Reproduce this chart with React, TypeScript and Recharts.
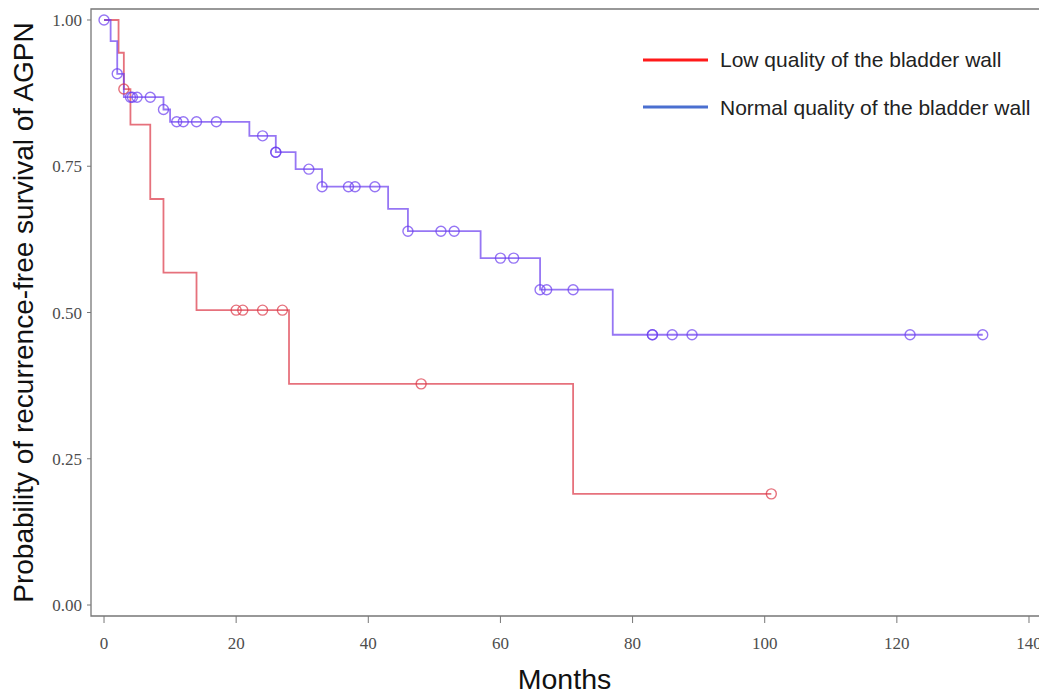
import {
  ComposedChart, Line, Scatter, XAxis, YAxis, ReferenceArea, Legend, Label,
} from "recharts";

// Kaplan-Meier steps (months, survival)
const lowStepMonths = [0, 2.2, 3, 4, 7, 9, 14, 28, 71, 101];
const lowStepSurv = [1, 0.944, 0.882, 0.821, 0.694, 0.568, 0.504, 0.378, 0.19, 0.19];
const lowCensorMonths = [3, 20, 21, 24, 27, 48, 101];
const lowCensorSurv = [0.882, 0.504, 0.504, 0.504, 0.504, 0.378, 0.19];

const normalStepMonths = [0, 1, 2, 3, 9, 10, 22, 26, 29, 33, 43, 46, 57, 66, 77, 133];
const normalStepSurv = [1, 0.964, 0.908, 0.868, 0.847, 0.826, 0.802, 0.774, 0.745, 0.715, 0.677, 0.639, 0.593, 0.539, 0.462, 0.462];
const normalCensorMonths = [0, 2, 4, 4.3, 5, 7, 9, 11, 12, 14, 17, 24, 26, 26, 31, 33, 37, 38, 41, 46, 51, 53, 60, 62, 66, 67, 71, 83, 83, 86, 89, 122, 133];
const normalCensorSurv = [1, 0.908, 0.868, 0.868, 0.868, 0.868, 0.847, 0.826, 0.826, 0.826, 0.826, 0.802, 0.774, 0.774, 0.745, 0.715, 0.715, 0.715, 0.715, 0.639, 0.639, 0.639, 0.593, 0.593, 0.539, 0.539, 0.539, 0.462, 0.462, 0.462, 0.462, 0.462, 0.462];

const xTicks = [0, 20, 40, 60, 80, 100, 120, 140];
const yTicks = [0, 0.25, 0.5, 0.75, 1];

const legendNames = ["Low quality of the bladder wall", "Normal quality of the bladder wall"];
const legendColors = ["#ff1a1a", "#4a6fd0"];

const zip = (ts: number[], ss: number[]) => ts.map((t, i) => ({ t, s: ss[i] }));

const lowSteps = zip(lowStepMonths, lowStepSurv);
const lowCensor = zip(lowCensorMonths, lowCensorSurv);
const normalSteps = zip(normalStepMonths, normalStepSurv);
const normalCensor = zip(normalCensorMonths, normalCensorSurv);

const RED = "#dc3545";
const PURPLE = "#6a3cf0";

const ring = (color: string) => (p: any) => (
  <circle cx={p.cx} cy={p.cy} r={5} fill="none" stroke={color} strokeOpacity={0.7} strokeWidth={1.4} />
);

const tickStyle = { fontFamily: "'Liberation Serif', serif", fontSize: 17, fill: "#4d4d4d" };
const titleFont = "'Liberation Sans', Arial, sans-serif";

function LegendBox() {
  return (
    <svg width={400} height={100}>
      {legendNames.map((name, i) => (
        <g key={name}>
          <line x1={0} x2={65} y1={22 + i * 47} y2={22 + i * 47} stroke={legendColors[i]} strokeWidth={3} />
          <text x={77} y={29 + i * 48} fontFamily={titleFont} fontSize={21} fill="#222">
            {name}
          </text>
        </g>
      ))}
    </svg>
  );
}

export default function App() {
  // outer box is shorter than the chart so the page (8px body margin) does not scroll
  return (
    <div style={{ width: 1039, height: 681 }}>
      <ComposedChart width={1039} height={689} margin={{ top: 1, right: 5, left: 0, bottom: 0 }}>
        <XAxis
          type="number"
          dataKey="t"
          domain={[-1.97, 141.97]}
          allowDataOverflow
          ticks={xTicks}
          height={81}
          axisLine={false}
          tickSize={7}
          tickMargin={14}
          tickLine={{ stroke: "#777" }}
          tick={tickStyle}
        >
          <Label
            content={({ viewBox }: any) => (
              <text
                x={viewBox.x + viewBox.width / 2 - 2}
                y={viewBox.y + 73}
                textAnchor="middle"
                fontFamily={titleFont}
                fontSize={28.5}
                fill="#111"
              >
                Months
              </text>
            )}
          />
        </XAxis>
        <YAxis
          type="number"
          dataKey="s"
          domain={[-0.0188, 1.0188]}
          allowDataOverflow
          ticks={yTicks}
          width={83}
          axisLine={false}
          tickSize={4}
          tickMargin={5}
          tickLine={{ stroke: "#777" }}
          tick={tickStyle}
          tickFormatter={(v: number) => v.toFixed(2)}
        >
          <Label
            content={({ viewBox }: any) => {
              const cx = 25;
              const cy = viewBox.y + viewBox.height / 2;
              return (
                <text
                  x={cx}
                  y={cy}
                  transform={`rotate(-90 ${cx} ${cy})`}
                  textAnchor="middle"
                  fontFamily={titleFont}
                  fontSize={28}
                  fill="#111"
                >
                  Probability of recurrence-free survival of AGPN
                </text>
              );
            }}
          />
        </YAxis>
        <ReferenceArea
          x1={-1.97}
          x2={141.97}
          y1={-0.0188}
          y2={1.0188}
          fill="none"
          stroke="#777"
          strokeWidth={1.3}
          ifOverflow="visible"
        />
        <Line data={lowSteps} dataKey="s" type="stepAfter" stroke={RED} strokeOpacity={0.7} strokeWidth={1.8} dot={false} activeDot={false} isAnimationActive={false} />
        <Line data={normalSteps} dataKey="s" type="stepAfter" stroke={PURPLE} strokeOpacity={0.7} strokeWidth={1.8} dot={false} activeDot={false} isAnimationActive={false} />
        <Scatter data={lowCensor} dataKey="s" shape={ring(RED)} isAnimationActive={false} />
        <Scatter data={normalCensor} dataKey="s" shape={ring(PURPLE)} isAnimationActive={false} />
        <Legend
          layout="vertical"
          align="center"
          verticalAlign="middle"
          content={() => <LegendBox />}
          wrapperStyle={{ position: "absolute", left: 635, top: 30, width: 400, height: 100 }}
        />
      </ComposedChart>
    </div>
  );
}
